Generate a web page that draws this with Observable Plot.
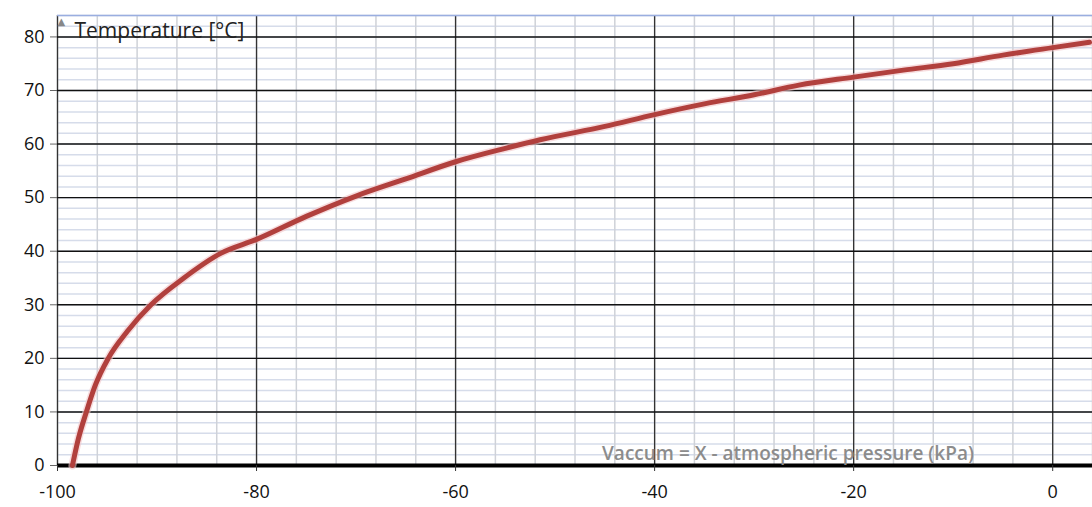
<!DOCTYPE html>
<html>
<head>
<meta charset="utf-8">
<script src="https://cdn.jsdelivr.net/npm/d3@7"></script>
<script src="https://cdn.jsdelivr.net/npm/@observablehq/plot@0.6"></script>
<style>
  html, body { margin: 0; padding: 0; background: #fff; }
  #chart svg { display: block; }
</style>
</head>
<body>
<div id="chart"></div>
<script>
// Vacuum (kPa) vs boiling temperature (°C)
const vacuum = [-98.5, -97.9, -97.1, -96.2, -94.9, -93, -90.6, -87.3, -83.6, -80, -75, -70, -65, -60, -55, -51.5, -45, -40, -35, -30, -25.5, -20, -15, -10, -5, 0, 3.7];
const temperature = [0, 5, 10, 15, 20, 25, 30, 35, 39.6, 42.2, 46.5, 50.3, 53.5, 56.7, 59.2, 60.8, 63.3, 65.5, 67.5, 69.2, 71, 72.5, 73.8, 75, 76.6, 78, 79];

const xMajorTicks = [-100, -80, -60, -40, -20, 0];
const yMajorTicks = [0, 10, 20, 30, 40, 50, 60, 70, 80];
const xMinorTicks = d3.range(-100, 5, 4);
const yMinorTicks = d3.range(0, 85, 2);

const yLabel = "Temperature [°C]";
const xLabel = "Vaccum = X - atmospheric pressure (kPa)";

const data = vacuum.map((v, i) => ({x: v, y: temperature[i]}));

const chart = Plot.plot({
  width: 1092,
  height: 507,
  marginLeft: 57,
  marginRight: 0,
  marginTop: 15,
  marginBottom: 42,
  style: {fontFamily: "Open Sans, sans-serif", fontSize: "18px", color: "#111", background: "#fff"},
  x: {domain: [-100, 4]},
  y: {domain: [0, 84]},
  marks: [
    Plot.ruleY(yMinorTicks, {stroke: "#d6dcea", strokeWidth: 1.5}),
    Plot.ruleX(xMinorTicks, {stroke: "#cfd2d8", strokeWidth: 1.5}),
    Plot.ruleX(xMajorTicks, {stroke: "#333", strokeWidth: 1.3}),
    Plot.ruleY(yMajorTicks, {stroke: "#111", strokeWidth: 1.4}),
    Plot.ruleY([84], {stroke: "#9aaee0", strokeWidth: 1.6}),
    Plot.ruleY([0], {stroke: "#000", strokeWidth: 4}),
    Plot.axisY({ticks: yMajorTicks, tickSize: 7, tickPadding: 6, stroke: "#666", label: null, fontSize: 18, tickFormat: d => String(d)}),
    Plot.axisX({ticks: xMajorTicks, tickSize: 6, tickPadding: 14, stroke: "#333", label: null, fontSize: 18, tickFormat: d => String(d)}),
    Plot.line(data, {x: "x", y: "y", curve: "monotone-x", stroke: "#f2c4c8", strokeWidth: 8, strokeOpacity: 0.6}),
    Plot.line(data, {x: "x", y: "y", curve: "monotone-x", stroke: "#b1403d", strokeWidth: 5, strokeLinejoin: "round"}),
    Plot.text([yLabel], {frameAnchor: "top-left", dx: 17, dy: 16, lineAnchor: "middle", textAnchor: "start", fontSize: 21, fill: "#222"}),
    Plot.text(["▲"], {frameAnchor: "top-left", dx: 0, dy: 6, lineAnchor: "middle", fontSize: 10, fontFamily: "DejaVu Sans", fill: "#888"}),
    Plot.text([xLabel], {frameAnchor: "bottom", dx: 213, dy: -12, lineAnchor: "middle", fontSize: 19, fontWeight: 600, fill: "#8c8c8c"})
  ]
});
document.getElementById("chart").appendChild(chart);
</script>
</body>
</html>
